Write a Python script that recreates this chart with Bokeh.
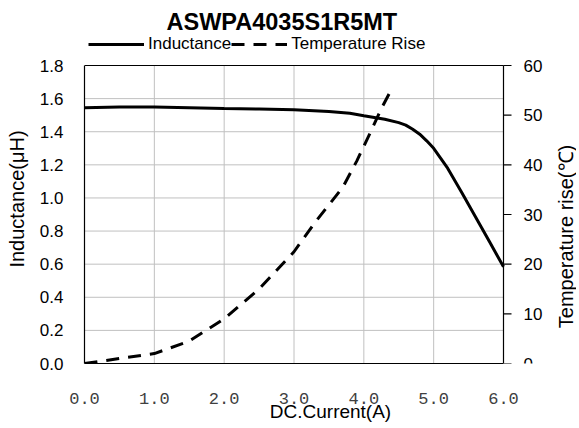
import math
from bokeh.plotting import figure
from bokeh.models import Range1d, FixedTicker, Legend, LegendItem
from bokeh.core.properties import value
from bokeh.embed import file_html
from bokeh.resources import INLINE

# ---- data ----
current_l = [0.0, 0.5, 1.0, 1.5, 2.0, 2.5, 3.0, 3.5, 3.8, 4.0, 4.3, 4.5, 4.6, 4.7, 4.8, 4.9, 5.0, 5.2, 5.4, 5.6, 5.8, 6.0]
inductance = [1.545, 1.55, 1.55, 1.545, 1.54, 1.537, 1.533, 1.522, 1.512, 1.497, 1.475, 1.455, 1.44, 1.415, 1.385, 1.345, 1.30, 1.18, 1.035, 0.885, 0.735, 0.584]

current_t = [0.0, 0.5, 1.0, 1.5, 2.0, 2.5, 3.0, 3.3, 3.7, 3.9, 4.1, 4.25, 4.37]
temp_rise = [0.0, 1.0, 2.0, 4.5, 9.0, 15.0, 22.5, 28.4, 35.5, 40.8, 46.7, 51.3, 54.5]

x_ticks = [0, 1, 2, 3, 4, 5, 6]
x_labels = ["0.0", "1.0", "2.0", "3.0", "4.0", "5.0", "6.0"]
left_ticks = [0, 0.2, 0.4, 0.6, 0.8, 1.0, 1.2, 1.4, 1.6, 1.8]
left_labels = ["0.0", "0.2", "0.4", "0.6", "0.8", "1.0", "1.2", "1.4", "1.6", "1.8"]
right_ticks = [0, 10, 20, 30, 40, 50, 60]
right_labels = ["0", "10", "20", "30", "40", "50", "60"]

FONT = "Liberation Sans"

# layout: the frame is extended up (legend) and right (secondary axis drawn
# through the scales); the bottom/left axes are bounded to the data ranges
W, H = 576, 428
FL, FR, FT, FB = 84, 576, 34, 363     # frame edges in pixels
DATA_RIGHT_PIX = 503                  # pixel of x = 6
TOP_PIX = 65                          # pixel of the 1.8 / 60 level
X_MAX = x_ticks[-1]
L_MAX = left_ticks[-1]
T_MAX = right_ticks[-1]
yscale = (FB - FT) / (FB - TOP_PIX)
xscale = (FR - FL) / (DATA_RIGHT_PIX - FL)

p = figure(width=W, height=H, x_range=Range1d(0, X_MAX * xscale), y_range=Range1d(0, L_MAX * yscale),
           output_backend="svg", toolbar_location=None,
           min_border_left=FL, min_border_right=0, min_border_top=FT, min_border_bottom=H - FB)
p.extra_y_ranges = {"temp": Range1d(0, T_MAX * yscale)}

p.outline_line_color = None
p.background_fill_color = "white"
p.border_fill_color = "white"

# title
p.title.text = "ASWPA4035S1R5MT"
p.title.align = "left"
p.title.offset = 82
p.title.standoff = 0
p.title.text_font = FONT
p.title.text_font_size = "23.5px"
p.title.text_font_style = "bold"
p.title.text_color = "black"

# grids (segments so they stop at the data area)
p.xgrid.visible = False
p.ygrid.visible = False
GRID = "#c0c0c0"
nx = len(x_ticks) - 2
ny = len(left_ticks) - 2
p.segment(x0=x_ticks[1:-1], y0=[0] * nx, x1=x_ticks[1:-1], y1=[L_MAX] * nx,
          line_color=GRID, line_width=1)
p.segment(x0=[0] * ny, y0=left_ticks[1:-1], x1=[X_MAX] * ny, y1=left_ticks[1:-1],
          line_color=GRID, line_width=1)
# top border and secondary axis line
p.segment(x0=[0, X_MAX], y0=[L_MAX, 0], x1=[X_MAX, X_MAX], y1=[L_MAX, L_MAX],
          line_color="black", line_width=1.2)

# secondary (temperature) axis: ticks, labels and title
r_pos = [t * L_MAX / T_MAX for t in right_ticks]
p.ray(x=[X_MAX] * len(r_pos), y=r_pos, length=8, length_units="screen", angle=0,
      line_color="black", line_width=1.2)
p.text(x=[X_MAX] * len(r_pos), y=r_pos, text=right_labels, x_offset=20,
       text_align="left", text_baseline="middle", text_font=value(FONT),
       text_font_size="17px", text_color="black")
p.text(x=[X_MAX], y=[L_MAX / 2], text=["Temperature rise(℃)"], angle=math.pi / 2,
       x_offset=62, y_offset=22, text_align="center", text_baseline="middle",
       text_font=value(FONT), text_font_size="20px", text_color="black")

# bottom axis
xa = p.xaxis[0]
xa.ticker = FixedTicker(ticks=x_ticks)
xa.major_label_overrides = dict(zip(x_ticks, x_labels))
xa.bounds = (0, X_MAX)
xa.major_tick_in = 0
xa.major_tick_out = 0
xa.minor_tick_in = 0
xa.minor_tick_out = 0
xa.axis_line_color = "black"
xa.axis_line_width = 1.2
xa.major_label_text_font = "Liberation Mono"
xa.major_label_text_font_size = "17px"
xa.major_label_text_color = "#404040"
xa.major_label_standoff = 29
xa.axis_label = "DC.Current(A)"
xa.axis_label_text_font = FONT
xa.axis_label_text_font_size = "19px"
xa.axis_label_text_font_style = "normal"
xa.axis_label_text_color = "black"
xa.axis_label_standoff = -6

# left axis
ya = p.yaxis[0]
ya.ticker = FixedTicker(ticks=left_ticks)
ya.major_label_overrides = dict(zip(left_ticks, left_labels))
ya.bounds = (0, L_MAX)
ya.major_tick_in = 0
ya.major_tick_out = 0
ya.minor_tick_in = 0
ya.minor_tick_out = 0
ya.axis_line_color = "black"
ya.axis_line_width = 1.2
ya.major_label_text_font = FONT
ya.major_label_text_font_size = "17px"
ya.major_label_text_color = "black"
ya.major_label_standoff = 21
ya.axis_label = "Inductance(μH)"
ya.axis_label_text_font = FONT
ya.axis_label_text_font_size = "20px"
ya.axis_label_text_font_style = "normal"
ya.axis_label_text_color = "black"
ya.axis_label_standoff = 9

# curves
r1 = p.line(current_l, inductance, line_color="black", line_width=3)
r2 = p.line(current_t, temp_rise, line_color="black", line_width=3, line_dash="13 9",
            y_range_name="temp")

legend = Legend(items=[LegendItem(label="Inductance", renderers=[r1]),
                       LegendItem(label="Temperature Rise", renderers=[r2])],
                orientation="horizontal", location=(4, FB - FT - 20),
                margin=0, padding=0, spacing=0, label_standoff=4,
                glyph_width=56, glyph_height=20,
                label_text_font=FONT, label_text_font_size="17px",
                label_text_color="black",
                background_fill_alpha=0, border_line_alpha=0)
p.add_layout(legend, "center")

open("out.html", "w").write(file_html(p, INLINE))
